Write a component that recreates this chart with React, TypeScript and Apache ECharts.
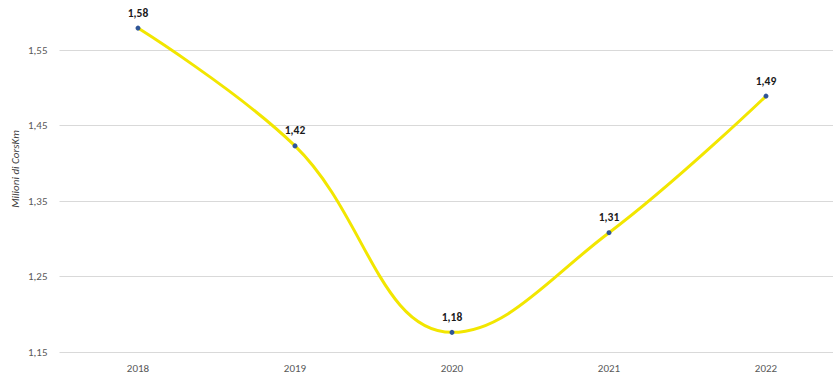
import React, { useEffect, useRef } from "react";
import * as echarts from "echarts";

const years = ["2018", "2019", "2020", "2021", "2022"];
const values = [1.579, 1.423, 1.176, 1.308, 1.489];
const yBase = 1.15;
const yTop = 1.55;
const yStep = 0.1;
const axisName = "Milioni di CorsKm";

const fmt = (v: number) => v.toFixed(2).replace(".", ",");

export default function App() {
  const ref = useRef<HTMLDivElement>(null);
  useEffect(() => {
    const chart = echarts.init(ref.current!, null, { renderer: "svg" });
    const font = "Calibri, Carlito, Lato, 'Open Sans', sans-serif";
    chart.setOption({
      animation: false,
      backgroundColor: "#ffffff",
      grid: {
        left: 59.5,
        top: 50,
        width: 785,
        height: 302,
        containLabel: false,
        outerBoundsMode: "none",
      },
      graphic: [
        {
          type: "text",
          x: 15,
          y: 169,
          rotation: Math.PI / 2,
          style: {
            text: axisName,
            fill: "#404040",
            fontSize: 11,
            fontStyle: "italic",
            fontFamily: font,
            align: "center",
            verticalAlign: "middle",
          },
        },
      ],
      xAxis: {
        type: "category",
        data: years,
        boundaryGap: true,
        axisLine: { show: false },
        axisTick: { show: false },
        axisLabel: { color: "#595959", fontSize: 11, fontFamily: font, margin: 11 },
      },
      yAxis: {
        type: "value",
        min: 0,
        max: +(yTop - yBase).toFixed(4),
        interval: yStep,
        axisLine: { show: false },
        axisTick: { show: false },
        axisLabel: {
          color: "#595959",
          fontSize: 11,
          fontFamily: font,
          margin: 12,
          formatter: (v: number) => fmt(v + yBase),
        },
        splitLine: { lineStyle: { color: "#d9d9d9", width: 1 } },
      },
      series: [
        {
          type: "line",
          data: values.map((v) => +(v - yBase).toFixed(4)),
          smooth: 0.4,
          clip: false,
          symbol: "circle",
          symbolSize: 5,
          showAllSymbol: true,
          lineStyle: { color: "#f2e600", width: 3 },
          itemStyle: { color: "#2f5597" },
          label: {
            show: true,
            position: "top",
            distance: 7,
            color: "#1a1a1a",
            fontWeight: "bold",
            fontSize: 11.5,
            fontFamily: font,
            formatter: (p: any) => fmt(values[p.dataIndex]),
          },
          z: 3,
        },
      ],
    });
    return () => chart.dispose();
  }, []);
  return (
    <div
      ref={ref}
      style={{ position: "fixed", left: 0, top: 0, width: 833, height: 378 }}
    />
  );
}
